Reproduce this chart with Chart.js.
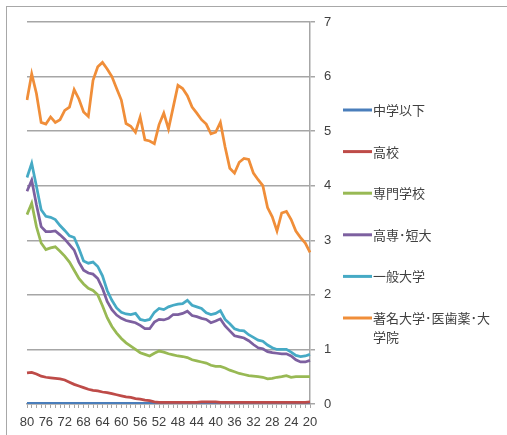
<!DOCTYPE html>
<html lang="ja">
<head>
    <meta charset="UTF-8">
    <title>学歴別</title>
    <style>
        * { margin: 0; padding: 0; box-sizing: border-box; }
        body { background: #fff; overflow: hidden; width: 507px; height: 435px; }
        .wrap { position: relative; width: 507px; height: 435px; }
        .frame {
            position: absolute;
            left: 6px; top: 6px;
            width: 520px; height: 450px;
            border: 1px solid #a8a8a8;
        }
        canvas { position: absolute; left: 0; top: 0; }
    </style>
</head>
<body>
<div class="wrap">
    <div class="frame"></div>
    <canvas id="chart" width="507" height="435"></canvas>
</div>

<script src="https://cdn.jsdelivr.net/npm/chart.js"></script>
<script>
    // category axis (years), every 4th one gets a label
    const years = ['80','79','78','77','76','75','74','73','72','71','70','69','68','67','66','65','64','63','62','61',
        '60','59','58','57','56','55','54','53','52','51','50','49','48','47','46','45','44','43','42','41',
        '40','39','38','37','36','35','34','33','32','31','30','29','28','27','26','25','24','23','22','21','20'];

    const seriesNames = ['中学以下', '高校', '専門学校', '高専･短大', '一般大学', '著名大学･医歯薬･大学院'];
    const legendLines = [['中学以下'], ['高校'], ['専門学校'], ['高専･短大'], ['一般大学'], ['著名大学･医歯薬･大', '学院']];
    const colors = ['#4a7ebb', '#be4b48', '#98b954', '#7d60a0', '#46aac5', '#f08e39'];

    const chugaku = [0.01,0.01,0.01,0.01,0.01,0.01,0.01,0.01,0.01,0.01,0.01,0.01,0.01,0.01,0.01,0.01,0.01,0.01,0.01,0.01,
        0.01,0.01,0.01,0.01,0.01,0.01,0.01,0.01,0.01,0.01,0.01,0.01,0.01,0.01,0.01,0.01,0.01,0.01,0.01,0.01,
        0.01,0.01,0.01,0.01,0.01,0.01,0.01,0.01,0.01,0.01,0.01,0.01,0.01,0.01,0.01,0.01,0.01,0.01,0.01,0.01,0.01];

    const koukou = [0.57,0.58,0.55,0.51,0.49,0.48,0.47,0.46,0.44,0.40,0.36,0.33,0.30,0.27,0.25,0.24,0.22,0.21,0.19,0.17,
        0.15,0.13,0.12,0.10,0.09,0.07,0.06,0.04,0.03,0.03,0.03,0.03,0.03,0.03,0.03,0.03,0.03,0.04,0.04,0.04,
        0.04,0.03,0.03,0.03,0.03,0.03,0.03,0.03,0.03,0.03,0.03,0.03,0.03,0.03,0.03,0.03,0.03,0.03,0.03,0.03,0.04];

    const senmon = [3.47,3.68,3.25,2.95,2.83,2.86,2.88,2.80,2.71,2.60,2.45,2.30,2.20,2.12,2.08,2.00,1.80,1.58,1.42,1.30,
        1.20,1.12,1.06,1.00,0.94,0.91,0.88,0.93,0.97,0.95,0.92,0.90,0.88,0.87,0.85,0.81,0.79,0.77,0.75,0.71,
        0.69,0.69,0.66,0.62,0.59,0.56,0.54,0.52,0.51,0.50,0.49,0.46,0.47,0.49,0.50,0.52,0.49,0.50,0.50,0.50,0.50];

    const tandai = [3.90,4.10,3.65,3.25,3.16,3.16,3.17,3.10,3.02,2.92,2.82,2.60,2.45,2.40,2.38,2.30,2.12,1.88,1.73,1.63,
        1.57,1.53,1.51,1.49,1.44,1.38,1.38,1.50,1.55,1.54,1.57,1.64,1.64,1.66,1.70,1.62,1.60,1.57,1.55,1.49,
        1.52,1.56,1.43,1.34,1.25,1.23,1.21,1.16,1.09,1.03,1.01,0.96,0.94,0.93,0.92,0.92,0.88,0.81,0.77,0.77,0.80];

    const daigaku = [4.15,4.41,3.99,3.56,3.44,3.42,3.38,3.27,3.18,3.08,3.05,2.85,2.62,2.58,2.60,2.52,2.35,2.08,1.90,1.76,
        1.68,1.65,1.64,1.66,1.55,1.53,1.55,1.68,1.75,1.73,1.78,1.81,1.83,1.84,1.90,1.81,1.78,1.75,1.67,1.64,
        1.66,1.71,1.55,1.47,1.38,1.35,1.34,1.27,1.22,1.17,1.15,1.08,1.03,1.00,1.00,1.00,0.95,0.89,0.87,0.88,0.91];

    const chomei = [5.57,6.05,5.69,5.16,5.13,5.26,5.16,5.21,5.38,5.44,5.76,5.59,5.35,5.27,5.93,6.18,6.26,6.14,6.00,5.78,
        5.57,5.14,5.09,4.98,5.26,4.84,4.82,4.77,5.12,5.33,5.04,5.44,5.84,5.78,5.65,5.44,5.33,5.21,5.13,4.95,
        4.98,5.16,4.71,4.32,4.23,4.43,4.50,4.48,4.23,4.11,4.00,3.60,3.43,3.17,3.50,3.53,3.38,3.17,3.05,2.95,2.78];

    const yTicks = [0, 1, 2, 3, 4, 5, 6, 7];

    const allSeries = [chugaku, koukou, senmon, tandai, daigaku, chomei];

    const legendPlugin = {
        id: 'sideLegend',
        afterDraw(chart) {
            const ctx = chart.ctx;
            ctx.save();
            ctx.font = '13px "Noto Sans CJK JP", sans-serif';
            ctx.textBaseline = 'middle';
            let y = 110;
            legendLines.forEach((lines, i) => {
                ctx.strokeStyle = colors[i];
                ctx.lineWidth = 3;
                ctx.beginPath();
                ctx.moveTo(343, y);
                ctx.lineTo(372, y);
                ctx.stroke();
                ctx.fillStyle = '#404040';
                lines.forEach((t, k) => ctx.fillText(t, 373, y + k * 19));
                y += 41.6;
            });
            ctx.restore();
        }
    };

    const ctx = document.getElementById('chart').getContext('2d');
    new Chart(ctx, {
        type: 'line',
        data: {
            labels: years,
            datasets: allSeries.map((d, i) => ({
                label: seriesNames[i],
                data: d,
                borderColor: colors[i],
                backgroundColor: colors[i],
                borderWidth: 2.75,
                pointRadius: 0,
                tension: 0,
                order: -i
            }))
        },
        options: {
            responsive: false,
            animation: false,
            layout: { padding: { left: 27, top: 22, right: 0, bottom: 0 } },
            plugins: {
                legend: { display: false },
                tooltip: { enabled: false }
            },
            scales: {
                x: {
                    offset: false,
                    grid: { drawOnChartArea: false, drawTicks: true, tickLength: 4, color: '#a6a6a6', lineWidth: 1 },
                    border: { display: true, color: '#a6a6a6', width: 1.5 },
                    ticks: {
                        autoSkip: false,
                        maxRotation: 0,
                        minRotation: 0,
                        padding: 7,
                        color: '#404040',
                        font: { family: '"Liberation Sans", Arial, sans-serif', size: 13 },
                        callback: (v, i) => (i % 4 === 0 ? years[i] : '')
                    },
                    afterFit: (s) => { s.height = 31; }
                },
                y: {
                    position: 'right',
                    min: 0,
                    max: 7,
                    afterBuildTicks: (s) => { s.ticks = yTicks.map(v => ({ value: v })); },
                    grid: { color: '#a6a6a6', lineWidth: 1.5, drawTicks: true, tickLength: 5 },
                    border: { display: true, color: '#a6a6a6', width: 1.5 },
                    ticks: {
                        padding: 9,
                        color: '#404040',
                        font: { family: '"Liberation Sans", Arial, sans-serif', size: 13 }
                    },
                    afterFit: (s) => { s.width = 197; }
                }
            }
        },
        plugins: [legendPlugin]
    });
</script>
</body>
</html>
